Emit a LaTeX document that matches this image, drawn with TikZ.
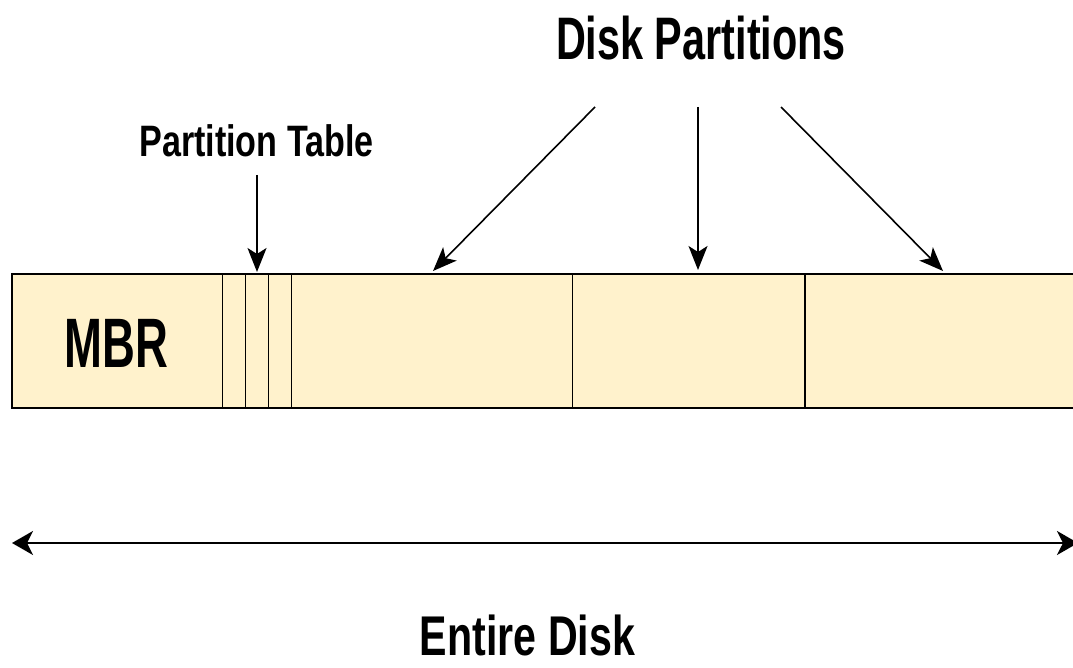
\documentclass[tikz,border=0pt]{standalone}
\usepackage{fontspec}
\setmainfont{Liberation Sans}
\newfontfamily\fDP[FakeStretch=0.69]{Liberation Sans Bold}
\newfontfamily\fPT[FakeStretch=0.775]{Liberation Sans Bold}
\newfontfamily\fED[FakeStretch=0.735]{Liberation Sans Bold}
\newfontfamily\fMB[FakeStretch=0.65]{Liberation Sans Bold}
\usetikzlibrary{arrows.meta}
\definecolor{barfill}{HTML}{FFF2CC}
\tikzset{
  lbl/.style={inner sep=0pt, anchor=base},
  cell/.style={draw=black, line width=1.3pt, fill=barfill, minimum height=134pt, inner sep=0pt, anchor=north west},
  pointer/.style={line width=1.6pt, -{Stealth[length=24pt,width=19pt,inset=6pt]}},
  span/.style={line width=1.8pt, {Stealth[length=21pt,width=24pt,inset=6pt]}-{Stealth[length=21pt,width=24pt,inset=6pt]}}
}
\begin{document}
\begin{tikzpicture}[x=1pt,y=-1pt]
\useasboundingbox (0,0) rectangle (1073,668);
\fill[white] (0,0) rectangle (1073,668);
% bar
\fill[barfill] (12,274) rectangle (1073,408);
\node[cell, minimum width=210pt] (mbr) at (12,274) {};
\node[cell, minimum width=23pt] (pt1) at (222,274) {};
\node[cell, minimum width=23pt] (pt2) at (245,274) {};
\node[cell, minimum width=23pt] (pt3) at (268,274) {};
\node[cell, minimum width=281pt] (p1) at (291,274) {};
\node[cell, minimum width=233pt] (p2) at (572,274) {};
\draw[line width=2pt] (805,274) -- (1073,274);
\draw[line width=2pt] (805,408) -- (1073,408);
\draw[line width=1.3pt] (805,274) -- (805,408);
\draw[line width=2pt] (12,273) -- (12,409);
\draw[line width=2pt] (12,274) -- (805,274);
\draw[line width=2pt] (12,408) -- (805,408);
\node[lbl] (mbrt) at (116.5,367) {\fontsize{70}{70}\fMB MBR};
% labels
\node[lbl] (ptlabel) at (256.5,157) {\fontsize{44}{44}\fPT Partition Table};
\node[lbl] (dplabel) at (701,60) {\fontsize{60}{60}\fDP Disk Partitions};
\node[lbl] (edlabel) at (527.5,655) {\fontsize{56}{56}\fED Entire Disk};
% coordinates
\coordinate (ptS) at (257,175);
\coordinate (ptE) at (257,272);
\coordinate (d1S) at (595,107);
\coordinate (d1E) at (433,271);
\coordinate (d2S) at (698,107);
\coordinate (d2E) at (698,270);
\coordinate (d3S) at (781,107);
\coordinate (d3E) at (943,271);
\coordinate (spL) at (12,543);
\coordinate (spR) at (1078,543);
\draw[pointer] (ptS) -- (ptE);
\draw[pointer] (d1S) -- (d1E);
\draw[pointer] (d2S) -- (d2E);
\draw[pointer] (d3S) -- (d3E);
\draw[span] (spL) -- (spR);
\end{tikzpicture}
\end{document}
